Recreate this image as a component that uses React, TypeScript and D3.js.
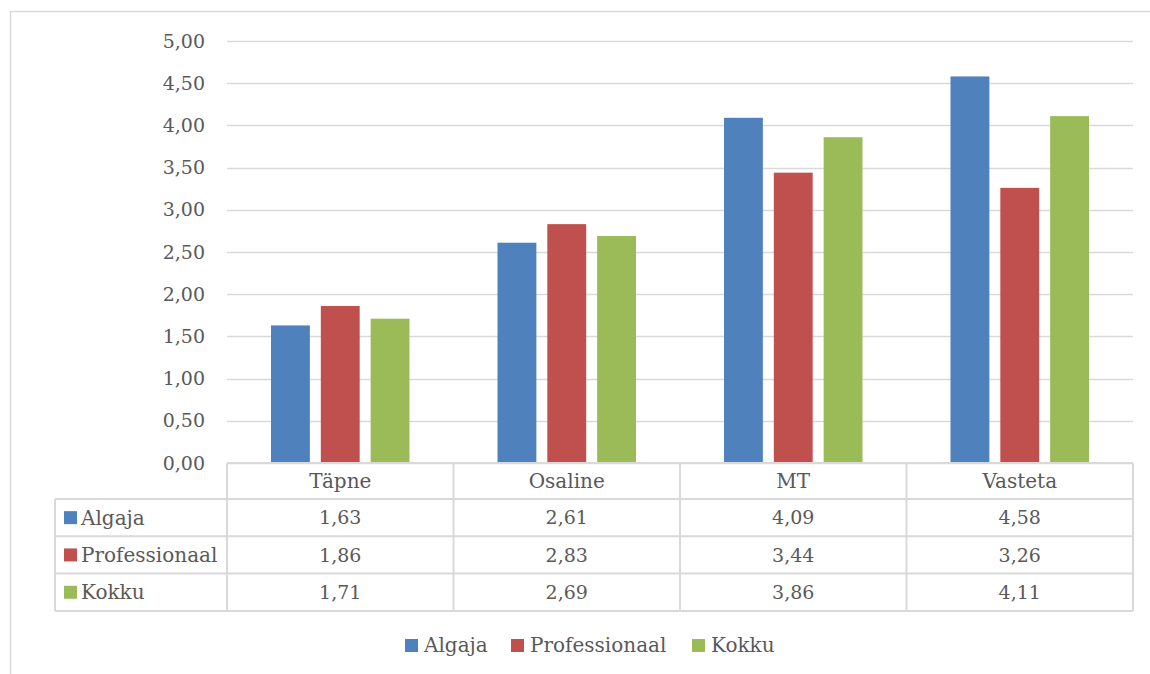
import { useEffect, useRef } from "react"
import * as d3 from "d3"

const categories = ["Täpne", "Osaline", "MT", "Vasteta"]
const seriesNames = ["Algaja", "Professionaal", "Kokku"]
const algaja = [1.63, 2.61, 4.09, 4.58]
const professionaal = [1.86, 2.83, 3.44, 3.26]
const kokku = [1.71, 2.69, 3.86, 4.11]
const colors = ["#4f81bd", "#c0504d", "#9bbb59"]
const yTicks = [0, 0.5, 1, 1.5, 2, 2.5, 3, 3.5, 4, 4.5, 5]

const fmt = (v: number) => v.toFixed(2).replace(".", ",")

export default function App() {
  const ref = useRef<SVGSVGElement>(null)

  useEffect(() => {
    if (!ref.current) return
    const svg = d3.select(ref.current)
    svg.selectAll("*").remove()

    const values = [algaja, professionaal, kokku]
    const font = "'DejaVu Serif', serif"
    const textColor = "#595959"
    const lineColor = "#d9d9d9"
    const numSize = 19
    const wordSize = 20

    const left = 227
    const right = 1133
    const top = 41
    const bottom = 463
    const tableLeft = 55
    const headerH = 36
    const rowH = 37.3

    // outer frame
    svg.append("rect")
      .attr("x", 10.5).attr("y", 11.5)
      .attr("width", 1150).attr("height", 700)
      .attr("fill", "white").attr("stroke", lineColor).attr("stroke-width", 1.5)

    const x = d3.scaleBand().domain(categories).range([left, right])
    const y = d3.scaleLinear().domain([0, 5]).range([bottom, top])
    const inner = d3.scaleBand().domain(seriesNames).range([44, x.bandwidth() - 44]).paddingInner(0.22)

    // gridlines
    svg.append("g").selectAll("line").data(yTicks).enter().append("line")
      .attr("x1", left).attr("x2", right)
      .attr("y1", (d) => Math.round(y(d)) + 0.5).attr("y2", (d) => Math.round(y(d)) + 0.5)
      .attr("stroke", lineColor).attr("stroke-width", 1.5)

    svg.append("g").selectAll("text").data(yTicks).enter().append("text")
      .attr("x", 205).attr("y", (d) => y(d))
      .attr("dy", "0.35em").attr("text-anchor", "end")
      .attr("font-family", font).attr("font-size", numSize).attr("fill", textColor)
      .text((d) => fmt(d))

    // bars
    seriesNames.forEach((s, i) => {
      svg.append("g").selectAll("rect").data(values[i]).enter().append("rect")
        .attr("x", (_, j) => (x(categories[j]) ?? 0) + (inner(s) ?? 0))
        .attr("width", inner.bandwidth())
        .attr("y", (d) => y(d))
        .attr("height", (d) => bottom - y(d))
        .attr("fill", colors[i])
    })

    // data table
    const t = svg.append("g").attr("stroke", lineColor).attr("stroke-width", 2).attr("fill", "none")
    const tableBottom = bottom + headerH + rowH * 3
    t.append("line").attr("x1", left).attr("x2", right).attr("y1", bottom).attr("y2", bottom)
    t.append("line").attr("x1", right).attr("x2", right).attr("y1", bottom).attr("y2", tableBottom)
    d3.range(4).forEach((r) => {
      const yy = bottom + headerH + rowH * r
      t.append("line").attr("x1", tableLeft).attr("x2", right).attr("y1", yy).attr("y2", yy)
    })
    t.append("line").attr("x1", tableLeft).attr("x2", tableLeft).attr("y1", bottom + headerH).attr("y2", tableBottom)
    categories.forEach((c) => {
      const xx = x(c) ?? 0
      t.append("line").attr("x1", xx).attr("x2", xx).attr("y1", bottom).attr("y2", tableBottom)
    })

    const txt = svg.append("g").attr("font-family", font).attr("fill", textColor)
    categories.forEach((c) => {
      txt.append("text")
        .attr("x", (x(c) ?? 0) + x.bandwidth() / 2).attr("y", bottom + headerH / 2)
        .attr("dy", "0.35em").attr("text-anchor", "middle").attr("font-size", wordSize).text(c)
    })
    seriesNames.forEach((s, i) => {
      const cy = bottom + headerH + rowH * i + rowH / 2
      svg.append("rect").attr("x", 64).attr("y", cy - 6.5).attr("width", 13).attr("height", 13).attr("fill", colors[i])
      txt.append("text").attr("x", 81).attr("y", cy).attr("dy", "0.35em").attr("font-size", wordSize).text(s)
      values[i].forEach((v, j) => {
        txt.append("text")
          .attr("x", (x(categories[j]) ?? 0) + x.bandwidth() / 2).attr("y", cy)
          .attr("dy", "0.35em").attr("text-anchor", "middle").attr("font-size", numSize).text(fmt(v))
      })
    })

    // legend
    const legendX = [405, 511, 692]
    seriesNames.forEach((s, i) => {
      svg.append("rect").attr("x", legendX[i]).attr("y", 639).attr("width", 13).attr("height", 13).attr("fill", colors[i])
      txt.append("text").attr("x", legendX[i] + 19).attr("y", 645).attr("dy", "0.35em").attr("font-size", wordSize).text(s)
    })
  }, [])

  return (
    <svg ref={ref} width={1150} height={674} style={{ position: "absolute", left: 0, top: 0, background: "white" }} />
  )
}
